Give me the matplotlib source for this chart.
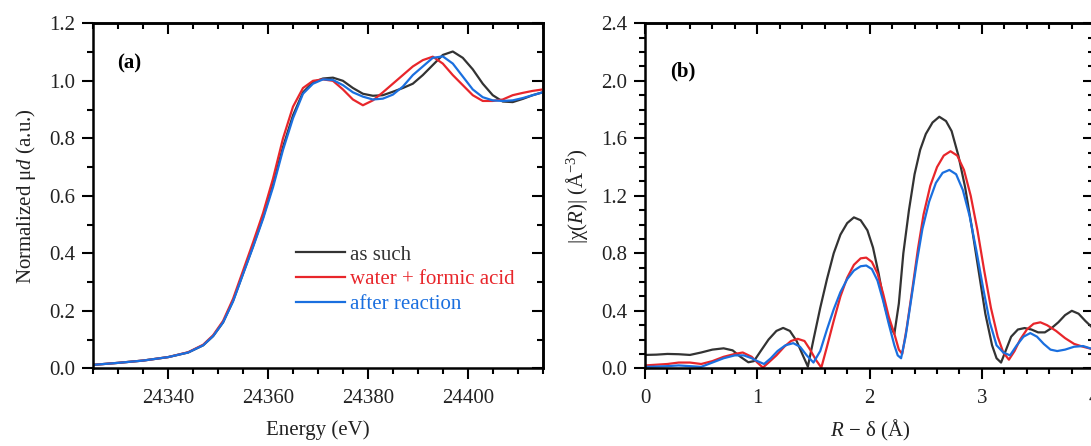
import matplotlib
matplotlib.use("Agg")
import matplotlib.pyplot as plt
from matplotlib.ticker import MultipleLocator, FormatStrFormatter

# ---------------------------------------------------------------
# DATA
# ---------------------------------------------------------------
LABELS = ["as such", "water + formic acid", "after reaction"]
COLORS = ["#333333", "#e8262b", "#1a6fdf"]

# (a) XANES
energy = [24325, 24330, 24335, 24340, 24344, 24347, 24349, 24351, 24353,
          24355, 24357, 24359, 24361, 24363, 24365, 24367, 24369, 24371,
          24373, 24375, 24377, 24379, 24381, 24383, 24385, 24387, 24389,
          24391, 24393, 24395, 24397, 24399, 24401, 24403, 24405, 24407,
          24409, 24411, 24413, 24415]
mu_as_such = [0.012, 0.019, 0.027, 0.039, 0.055, 0.080, 0.112, 0.160, 0.235,
              0.330, 0.425, 0.525, 0.640, 0.770, 0.880, 0.960, 0.995, 1.008,
              1.011, 1.000, 0.975, 0.955, 0.948, 0.950, 0.962, 0.975, 0.990,
              1.020, 1.055, 1.090, 1.102, 1.080, 1.040, 0.990, 0.950, 0.928,
              0.926, 0.937, 0.950, 0.960]
mu_water = [0.012, 0.019, 0.027, 0.039, 0.056, 0.082, 0.115, 0.165, 0.242,
            0.340, 0.438, 0.540, 0.660, 0.800, 0.910, 0.975, 1.000, 1.005,
            1.000, 0.970, 0.935, 0.915, 0.932, 0.960, 0.990, 1.020, 1.050,
            1.072, 1.084, 1.060, 1.020, 0.985, 0.950, 0.930, 0.930, 0.935,
            0.950, 0.958, 0.965, 0.970]
mu_after = [0.012, 0.019, 0.027, 0.039, 0.055, 0.080, 0.112, 0.160, 0.233,
            0.328, 0.422, 0.520, 0.630, 0.760, 0.870, 0.955, 0.990, 1.005,
            1.003, 0.985, 0.960, 0.945, 0.935, 0.938, 0.952, 0.980, 1.020,
            1.050, 1.080, 1.085, 1.060, 1.015, 0.970, 0.943, 0.932, 0.930,
            0.932, 0.940, 0.950, 0.960]

# (b) Fourier transform magnitude
r_as_such = [0.00, 0.10, 0.20, 0.30, 0.40, 0.50, 0.60, 0.70, 0.78, 0.85,
             0.92, 0.97, 1.03, 1.10, 1.17, 1.23, 1.29, 1.35, 1.40, 1.45,
             1.50, 1.56, 1.62, 1.68, 1.74, 1.80, 1.86, 1.92, 1.98, 2.03,
             2.08, 2.13, 2.18, 2.22, 2.26, 2.30, 2.35, 2.40, 2.45, 2.50,
             2.56, 2.62, 2.68, 2.73, 2.79, 2.85, 2.91, 2.97, 3.03, 3.09,
             3.13, 3.17, 3.21, 3.26, 3.32, 3.38, 3.44, 3.50, 3.56, 3.62,
             3.68, 3.74, 3.80, 3.86, 3.92, 4.00]
chi_as_such = [0.093, 0.095, 0.100, 0.098, 0.093, 0.110, 0.130, 0.139, 0.125, 0.080,
               0.042, 0.050, 0.120, 0.200, 0.260, 0.281, 0.260, 0.190, 0.100, 0.012,
               0.200, 0.420, 0.620, 0.800, 0.930, 1.010, 1.050, 1.030, 0.960, 0.840,
               0.660, 0.450, 0.300, 0.240, 0.450, 0.800, 1.100, 1.350, 1.520, 1.630,
               1.710, 1.750, 1.720, 1.650, 1.480, 1.260, 0.980, 0.680, 0.380, 0.160,
               0.070, 0.040, 0.120, 0.220, 0.270, 0.280, 0.270, 0.250, 0.250, 0.280,
               0.320, 0.370, 0.400, 0.380, 0.330, 0.270]

r_water = [0.00, 0.10, 0.20, 0.30, 0.40, 0.50, 0.60, 0.70, 0.80, 0.87,
           0.95, 1.00, 1.05, 1.10, 1.17, 1.24, 1.30, 1.36, 1.42, 1.47,
           1.52, 1.57, 1.62, 1.68, 1.74, 1.80, 1.86, 1.92, 1.97, 2.02,
           2.07, 2.12, 2.17, 2.22, 2.26, 2.29, 2.33, 2.38, 2.43, 2.48,
           2.54, 2.60, 2.66, 2.72, 2.78, 2.84, 2.90, 2.96, 3.02, 3.08,
           3.14, 3.19, 3.24, 3.29, 3.34, 3.40, 3.46, 3.52, 3.58, 3.66,
           3.74, 3.82, 3.90, 4.00]
chi_water = [0.020, 0.025, 0.030, 0.040, 0.040, 0.030, 0.050, 0.080, 0.100, 0.110,
             0.080, 0.040, 0.005, 0.040, 0.090, 0.150, 0.190, 0.205, 0.190, 0.130,
             0.060, 0.005, 0.150, 0.330, 0.500, 0.630, 0.720, 0.765, 0.770, 0.740,
             0.660, 0.520, 0.360, 0.240, 0.130, 0.100, 0.280, 0.550, 0.830, 1.070,
             1.270, 1.400, 1.480, 1.510, 1.480, 1.380, 1.200, 0.960, 0.680, 0.420,
             0.220, 0.110, 0.060, 0.120, 0.200, 0.270, 0.310, 0.320, 0.300, 0.260,
             0.210, 0.170, 0.150, 0.130]

r_after = [0.00, 0.10, 0.20, 0.30, 0.40, 0.50, 0.60, 0.70, 0.80, 0.88,
           0.95, 1.00, 1.06, 1.12, 1.18, 1.25, 1.32, 1.38, 1.44, 1.50,
           1.56, 1.62, 1.68, 1.74, 1.80, 1.86, 1.92, 1.97, 2.02, 2.07,
           2.12, 2.17, 2.22, 2.25, 2.28, 2.32, 2.37, 2.42, 2.47, 2.53,
           2.59, 2.65, 2.71, 2.77, 2.83, 2.89, 2.95, 3.01, 3.07, 3.13,
           3.19, 3.25, 3.31, 3.37, 3.43, 3.49, 3.55, 3.61, 3.67, 3.74,
           3.82, 3.90, 4.00]
chi_after = [0.010, 0.012, 0.015, 0.020, 0.015, 0.010, 0.040, 0.070, 0.090, 0.090,
             0.070, 0.050, 0.030, 0.070, 0.120, 0.160, 0.175, 0.150, 0.090, 0.040,
             0.120, 0.270, 0.410, 0.530, 0.620, 0.680, 0.710, 0.715, 0.690, 0.610,
             0.470, 0.310, 0.160, 0.090, 0.070, 0.220, 0.480, 0.740, 0.970, 1.160,
             1.290, 1.360, 1.380, 1.350, 1.240, 1.060, 0.820, 0.560, 0.320, 0.160,
             0.110, 0.090, 0.160, 0.220, 0.245, 0.220, 0.170, 0.130, 0.120, 0.130,
             0.150, 0.155, 0.130]

# ---------------------------------------------------------------
# STYLE
# ---------------------------------------------------------------
TEXT = "#222222"
plt.rcParams["font.family"] = ["Liberation Serif", "DejaVu Serif"]
plt.rcParams["font.size"] = 15
plt.rcParams["mathtext.fontset"] = "custom"
plt.rcParams["mathtext.rm"] = "Liberation Serif"
plt.rcParams["mathtext.it"] = "Liberation Serif:italic"
plt.rcParams["mathtext.bf"] = "Liberation Serif:bold"


def style_axes(ax, xmaj, xmin, ymaj, ymin):
    for sp in ax.spines.values():
        sp.set_linewidth(1.8)
    ax.xaxis.set_major_locator(MultipleLocator(xmaj))
    ax.xaxis.set_minor_locator(MultipleLocator(xmin))
    ax.yaxis.set_major_locator(MultipleLocator(ymaj))
    ax.yaxis.set_minor_locator(MultipleLocator(ymin))
    ax.tick_params(which="both", direction="out", width=1.5,
                   labelsize=15, labelcolor=TEXT)
    ax.tick_params(axis="x", pad=7)
    ax.tick_params(axis="y", pad=5)
    ax.tick_params(which="major", length=8)
    ax.tick_params(which="minor", length=4.5)

    # mirrored ticks pointing inward on top and right
    top = ax.secondary_xaxis("top")
    top.xaxis.set_major_locator(MultipleLocator(xmaj))
    top.xaxis.set_minor_locator(MultipleLocator(xmin))
    top.tick_params(which="both", direction="in", width=1.5,
                    labeltop=False, labelbottom=False)
    top.tick_params(which="major", length=8)
    top.tick_params(which="minor", length=4.5)
    top.spines["top"].set_linewidth(1.8)

    right = ax.secondary_yaxis("right")
    right.yaxis.set_major_locator(MultipleLocator(ymaj))
    right.yaxis.set_minor_locator(MultipleLocator(ymin))
    right.tick_params(which="both", direction="in", width=1.5,
                      labelright=False, labelleft=False)
    right.tick_params(which="major", length=8)
    right.tick_params(which="minor", length=4.5)
    right.spines["right"].set_linewidth(1.8)


fig = plt.figure(figsize=(10.91, 4.46), dpi=100)
ax1 = fig.add_axes([0.0855, 0.1742, 0.4119, 0.7735])
ax2 = fig.add_axes([0.5912, 0.1742, 0.4118, 0.7735])

# (a)
for y, c, lab in zip([mu_as_such, mu_water, mu_after], COLORS, LABELS):
    ax1.plot(energy, y, color=c, lw=1.6, label=lab)
ax1.set_xlim(24325, 24415)
ax1.set_ylim(0, 1.2)
style_axes(ax1, 20, 5, 0.2, 0.1)
ax1.yaxis.set_major_formatter(FormatStrFormatter("%.1f"))
ax1.set_xlabel("Energy (eV)", color=TEXT, labelpad=9)
ax1.set_ylabel("Normalized μ$d$ (a.u.)", color=TEXT, labelpad=8)
ax1.text(0.053, 0.885, "(a)", transform=ax1.transAxes, fontweight="bold",
         fontsize=15, va="center", ha="left")
ax1.legend(loc="center left", bbox_to_anchor=(0.452, 0.257), frameon=False,
           handlelength=2.35, handletextpad=0.2, labelspacing=0.25,
           borderpad=0, borderaxespad=0, labelcolor="linecolor", fontsize=15)

# (b)
for r, y, c in zip([r_as_such, r_water, r_after],
                   [chi_as_such, chi_water, chi_after], COLORS):
    ax2.plot(r, y, color=c, lw=1.6)
ax2.set_xlim(0, 4)
ax2.set_ylim(0, 2.4)
style_axes(ax2, 1, 0.2, 0.4, 0.1)
ax2.yaxis.set_major_formatter(FormatStrFormatter("%.1f"))
ax2.set_xlabel("$R$ − δ (Å)", color=TEXT, labelpad=7)
ax2.set_ylabel("|χ($R$)| (Å$^{-3}$)", color=TEXT, labelpad=8)
ax2.text(0.055, 0.86, "(b)", transform=ax2.transAxes, fontweight="bold",
         fontsize=15, va="center", ha="left")

fig.savefig("out.png", dpi=100)
